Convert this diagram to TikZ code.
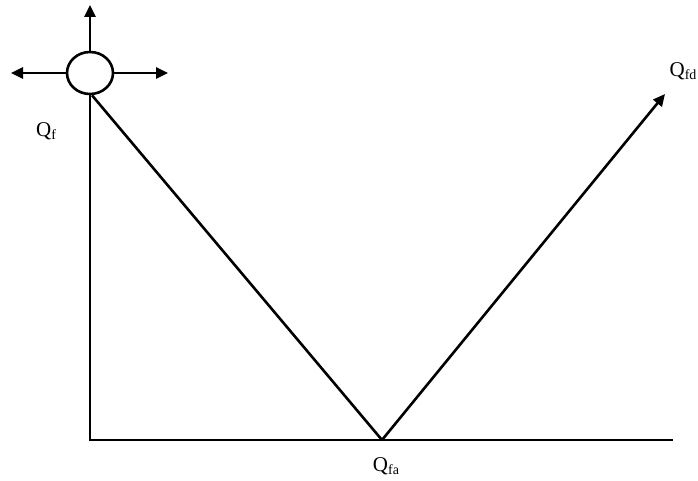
\documentclass[tikz,border=0pt]{standalone}
\usepackage{fontspec}
\setmainfont{Liberation Serif}
\usetikzlibrary{arrows.meta,shapes.geometric}
\tikzset{
  ln/.style={line width=2.6pt},
  arr/.style={ln,-{Triangle[length=12pt,width=11pt]}},
  lbl/.style={inner sep=0pt,font=\fontsize{21}{21}\selectfont},
  valve/.style={ellipse,draw,line width=2.6pt,minimum width=46pt,minimum height=42pt,inner sep=0pt}
}
\newcommand{\sbx}[1]{{\fontsize{14}{14}\selectfont\raisebox{-3.5pt}{#1}}}
\begin{document}
\begin{tikzpicture}[x=1pt,y=-1pt]
\useasboundingbox (0,0) rectangle (698,481);
\node[valve] (c) at (90,73) {};
\coordinate (up) at (90,5);
\coordinate (lt) at (11,73);
\coordinate (rt) at (168,73);
\coordinate (o) at (90,440);
\coordinate (v) at (382,440);
\coordinate (e) at (673,440);
\coordinate (fd) at (665,94);
\draw[arr] (c.north) -- (up);
\draw[arr] (c.west) -- (lt);
\draw[arr] (c.east) -- (rt);
\draw[ln] (c.south) -- (o) -- (e);
\draw[ln] ([xshift=2pt]c.south) -- (v);
\draw[arr] (v) -- (fd);
\node[lbl] (qf) at (46,131) {Q\sbx{f}};
\node[lbl] (qfd) at (683,71) {Q\sbx{fd}};
\node[lbl] (qfa) at (386,466) {Q\sbx{fa}};
\end{tikzpicture}
\end{document}
